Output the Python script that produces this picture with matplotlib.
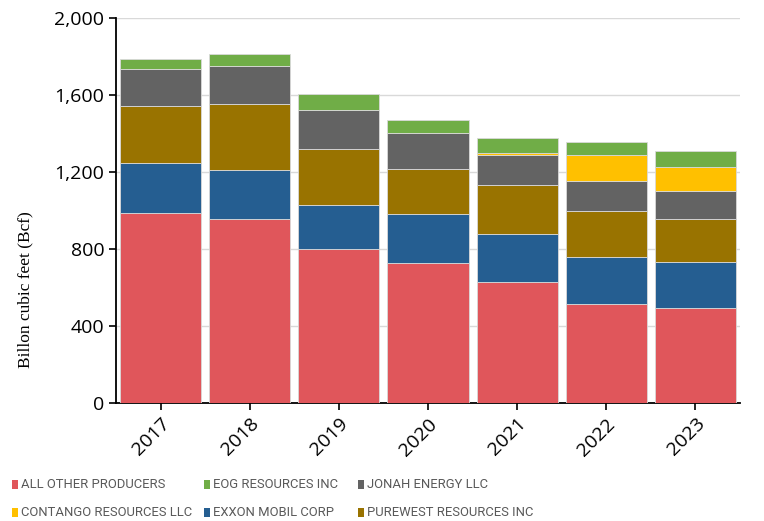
import matplotlib
matplotlib.use("Agg")
import matplotlib.pyplot as plt
from matplotlib.patches import Rectangle
import numpy as np

years = ["2017", "2018", "2019", "2020", "2021", "2022", "2023"]
all_other = [987, 957, 800, 727, 629, 513, 495]
exxon = [258, 255, 227, 256, 251, 244, 237]
purewest = [299, 341, 294, 231, 251, 239, 223]
jonah = [191, 199, 203, 190, 159, 157, 144]
contango = [0, 0, 0, 0, 7, 135, 126]
eog = [52, 62, 80, 66, 78, 68, 82]

series = [
    ("ALL OTHER PRODUCERS", all_other, "#E0565B"),
    ("EXXON MOBIL CORP", exxon, "#255E91"),
    ("PUREWEST RESOURCES INC", purewest, "#997300"),
    ("JONAH ENERGY LLC", jonah, "#636363"),
    ("CONTANGO RESOURCES LLC", contango, "#FFC000"),
    ("EOG RESOURCES INC", eog, "#70AD47"),
]
colors = {n: c for n, _, c in series}

W, H = 764, 521
fig = plt.figure(figsize=(W / 100, H / 100), dpi=100)
ax = fig.add_axes([116 / W, 1 - 403 / H, 624 / W, 385 / H])

x = np.arange(len(years))
bottom = np.zeros(len(years))
for name, vals, col in series:
    v = np.array(vals, dtype=float)
    ax.bar(x, v, bottom=bottom, width=0.91, color=col, edgecolor="#d9d9d9",
           linewidth=0.6, label=name, zorder=3)
    bottom += v

ax.set_xlim(-0.5, 6.5)
ax.set_ylim(0, 2000)
ax.set_yticks([0, 400, 800, 1200, 1600, 2000])
ax.set_yticklabels(["0", "400", "800", "1,200", "1,600", "2,000"])
ax.set_xticks(x)
ax.set_xticklabels(years, rotation=45, ha="right", rotation_mode="anchor")
ax.grid(axis="y", color="#d9d9d9", linewidth=1, zorder=0)
for s in ["top", "right"]:
    ax.spines[s].set_visible(False)
ax.spines["left"].set_linewidth(1.3)
ax.spines["bottom"].set_linewidth(1.3)
ax.tick_params(axis="y", labelsize=14, length=5, width=1.2, direction="out")
ax.tick_params(axis="x", labelsize=14, length=5, width=1.2)
for lab in ax.get_xticklabels() + ax.get_yticklabels():
    lab.set_family(["Open Sans", "DejaVu Sans"])

ax.set_ylabel("Billon cubic feet (Bcf)", family=["Liberation Serif", "DejaVu Serif"], fontsize=12.5)
ax.yaxis.set_label_coords((33 - 116) / 624, (403 - 290) / 385)

# legend laid out as in the reference (row-wise, 3 columns)
legend_rows = [
    ["ALL OTHER PRODUCERS", "EOG RESOURCES INC", "JONAH ENERGY LLC"],
    ["CONTANGO RESOURCES LLC", "EXXON MOBIL CORP", "PUREWEST RESOURCES INC"],
]
col_x = [12, 204, 358]
row_y = [484, 512]
for r, row in enumerate(legend_rows):
    for c, name in enumerate(row):
        px, py = col_x[c], row_y[r]
        fig.patches.append(Rectangle((px / W, 1 - (py + 4.5) / H), 6 / W, 9 / H,
                                     transform=fig.transFigure, facecolor=colors[name],
                                     edgecolor="none"))
        fig.text((px + 9) / W, 1 - py / H, name, va="center", ha="left",
                 family=["Roboto", "DejaVu Sans"], fontsize=9.4, color="#595959")

fig.savefig("out.png", dpi=100)
